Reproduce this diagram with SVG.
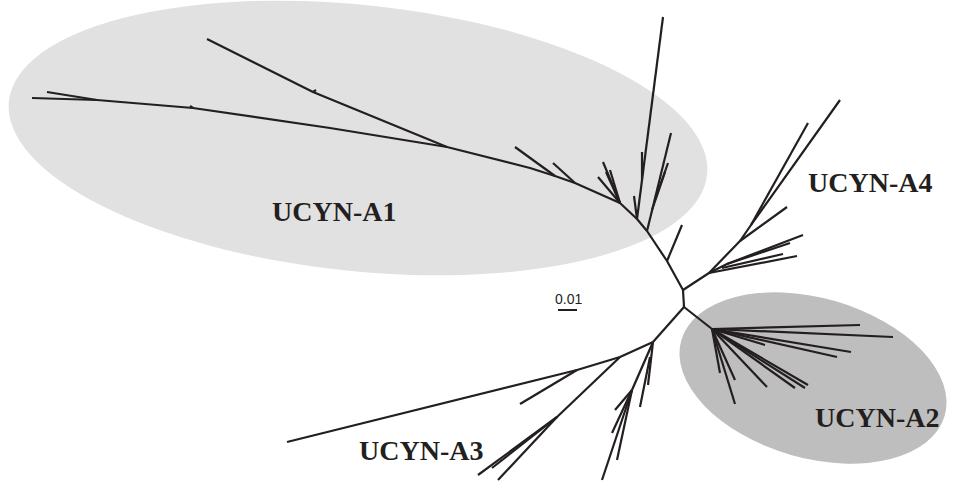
<svg xmlns="http://www.w3.org/2000/svg" width="958" height="482" viewBox="0 0 958 482">
<style>
.br{fill:none;stroke:#231f20;stroke-width:2.2;stroke-linecap:butt;stroke-linejoin:round}
.lab{font-family:"Liberation Serif","Times New Roman",serif;font-weight:bold;font-size:28px;fill:#231f20}
.sc{font-family:"Liberation Sans",Arial,sans-serif;font-size:14px;fill:#231f20}
</style>
<rect width="958" height="482" fill="#ffffff"/>
<g id="clade-A1-bg"><ellipse cx="358" cy="138" rx="351" ry="133" transform="rotate(6 358 138)" fill="#e2e1e2"/></g>
<g id="clade-A2-bg"><ellipse cx="813" cy="378" rx="137" ry="80" transform="rotate(16 813 378)" fill="#bfbebe"/></g>
<g id="connectors">
<!-- central -->
<path class="br" d="M683,290 L684,307"/>
<path class="br" d="M684,307 L712,329"/>
<path class="br" d="M684,307 L653,342"/>
<!-- A1 backbone -->
<path class="br" d="M683,290 L667,261 L647,231 L637,219 L620,203 L575,183 L555,176 L530,168 L447,147 L330,128 L193,108 L97,100"/>
<path class="br" d="M97,100 L32,98"/>
<path class="br" d="M97,100 L47,92"/>
<path class="br" d="M193,108 L190,106"/>
<path class="br" d="M447,147 L313,92 L207,39"/>
<path class="br" d="M313,92 L316,90"/>
<path class="br" d="M667,261 L682,225"/>
<path class="br" d="M637,219 L663,17"/>
<path class="br" d="M637,219 L634,196"/>
<path class="br" d="M642,180 L642,152"/>
<path class="br" d="M647,231 L671,133"/>
<path class="br" d="M655,200 L668,163"/>
<path class="br" d="M652,210 L665,172"/>
<path class="br" d="M620,203 L603,162"/>
<path class="br" d="M620,203 L598,177"/>
<path class="br" d="M620,203 L606,172"/>
<path class="br" d="M620,203 L610,170"/>
<path class="br" d="M575,183 L553,163"/>
<path class="br" d="M555,176 L515,147"/>
<!-- A4 -->
<path class="br" d="M683,290 L709,273 L740,241 L751,225 L840,100"/>
<path class="br" d="M751,225 L808,123"/>
<path class="br" d="M740,241 L787,207"/>
<path class="br" d="M709,273 L727,264 L803,235"/>
<path class="br" d="M727,264 L790,243"/>
<path class="br" d="M709,273 L797,256"/>
<path class="br" d="M722,268 L783,254"/>
<!-- A2 -->
<path class="br" d="M712,329 L860,325"/>
<path class="br" d="M712,329 L893,337"/>
<path class="br" d="M712,329 L851,352"/>
<path class="br" d="M712,329 L837,357"/>
<path class="br" d="M712,329 L765,345"/>
<path class="br" d="M712,329 L808,385"/>
<path class="br" d="M712,329 L805,388"/>
<path class="br" d="M712,329 L795,388"/>
<path class="br" d="M712,329 L767,387"/>
<path class="br" d="M712,329 L735,380"/>
<path class="br" d="M712,329 L720,373"/>
<path class="br" d="M712,329 L735,404"/>
<!-- A3 -->
<path class="br" d="M653,342 L620,357 L577,370 L287,442"/>
<path class="br" d="M577,370 L520,404"/>
<path class="br" d="M620,357 L557,417 L478,475"/>
<path class="br" d="M557,417 L498,480"/>
<path class="br" d="M557,417 L492,468"/>
<path class="br" d="M653,342 L648,385"/>
<path class="br" d="M650,357 L640,407"/>
<path class="br" d="M653,342 L632,390"/>
<path class="br" d="M632,390 L615,410"/>
<path class="br" d="M632,390 L612,433"/>
<path class="br" d="M632,390 L617,460"/>
<path class="br" d="M632,390 L602,480"/>
</g>
<g id="label-A1"><text class="lab" x="272" y="221">UCYN-A1</text></g>
<g id="label-A4"><text class="lab" x="808" y="192">UCYN-A4</text></g>
<g id="label-A2"><text class="lab" x="815" y="427">UCYN-A2</text></g>
<g id="label-A3"><text class="lab" x="359" y="460">UCYN-A3</text></g>
<g id="scale-bar">
<text class="sc" x="555" y="304">0.01</text>
<line x1="558" y1="310" x2="577" y2="310" stroke="#231f20" stroke-width="2"/>
</g>
</svg>
